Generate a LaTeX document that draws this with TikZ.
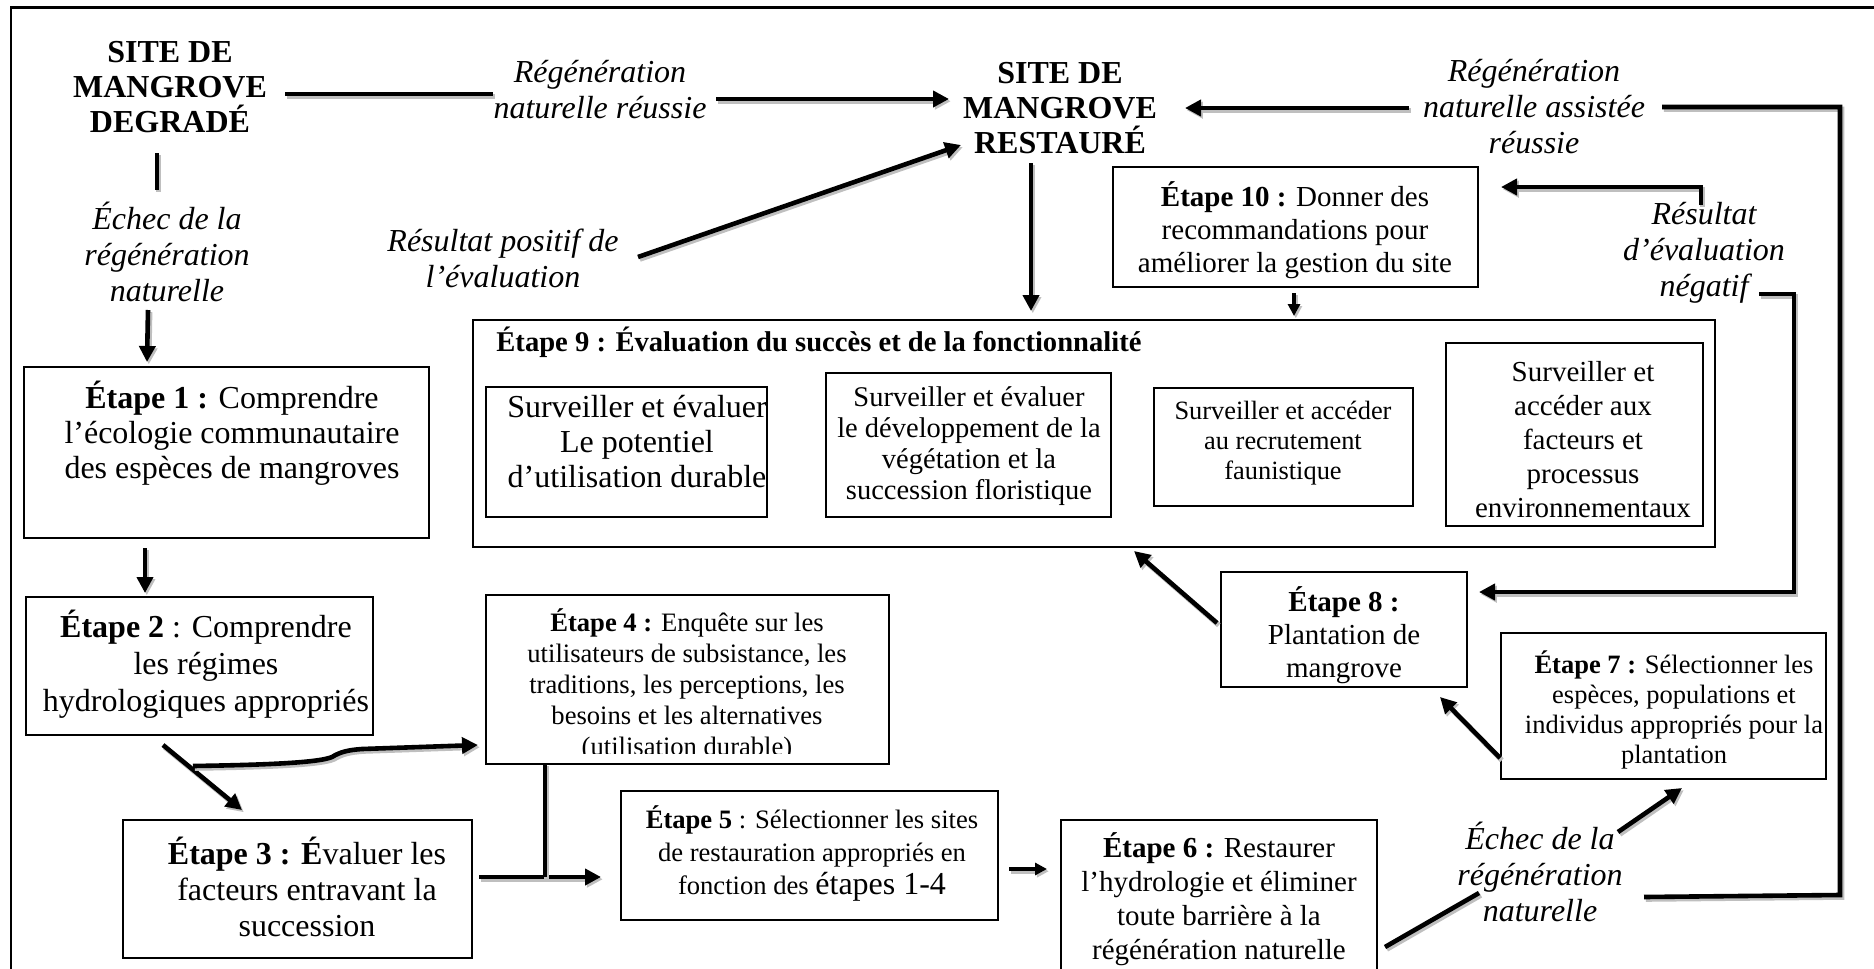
\documentclass[tikz,border=0pt]{standalone}
\usepackage{fontspec}
\setmainfont{Liberation Serif}
\usetikzlibrary{arrows.meta,fit}
\newcommand\myfs[2]{\fontsize{#1}{#2}\selectfont}
\begin{document}
\begin{tikzpicture}[x=0.5pt,y=-0.5pt,
  box/.style={draw=black, line width=0.7pt, inner sep=0pt},
  txt/.style={inner sep=0pt, align=center},
  lab/.style={inner sep=0pt, align=center, font=\myfs{16}{18}\itshape},
  conn/.style={line width=2.3pt, preaction={draw=black!25, line width=2.6pt, transform canvas={xshift=0.9pt,yshift=-1.1pt}}},
  arr/.style={conn, -{Triangle[length=8pt,width=8pt]}},
  sarr/.style={conn, -{Triangle[length=6pt,width=6pt]}}]
\useasboundingbox (0,0) rectangle (1874,969);
\clip (0,0) rectangle (1874,969);
% frame
\draw[line width=1.3pt] (11,975) -- (11,7.5) -- (1880,7.5);

% titles and labels
\node[txt, font=\myfs{16}{17.5}\bfseries] (deg) at (170,87) {SITE DE\\MANGROVE\\DEGRADÉ};
\node[txt, font=\myfs{16}{17.5}\bfseries] (res) at (1060,108) {SITE DE\\MANGROVE\\RESTAURÉ};
\node[lab] (lnr) at (600,90) {Régénération\\naturelle réussie};
\node[lab] (lech1) at (167,252) {Échec de la\\régénération\\naturelle};
\node[lab] (lpos) at (503,258) {Résultat positif de\\l’évaluation};
\node[lab] (lass) at (1534,107) {Régénération\\naturelle assistée\\réussie};
\node[lab] (lneg) at (1704,253) {Résultat\\d’évaluation\\négatif};
\node[lab] (lech2) at (1540,872) {Échec de la\\régénération\\naturelle};

% boxes
\node[box, fit={(24,367)(429,538)}] (s1) {};
\node[box, fit={(26,597)(373,735)}] (s2) {};
\node[box, fit={(123,820)(472,958)}] (s3) {};
\node[box, fit={(486,595)(889,764)}] (s4) {};
\node[box, fit={(621,791)(998,920)}] (s5) {};
\node[box, fit={(1061,820)(1377,990)}] (s6) {};
\node[box, fit={(1501,633)(1826,779)}] (s7) {};
\node[box, fit={(1221,572)(1467,687)}] (s8) {};
\node[box, fit={(473,320)(1715,547)}] (s9) {};
\node[box, fit={(486,387)(767,517)}] (m1) {};
\node[box, fit={(826,373)(1111,517)}] (m2) {};
\node[box, fit={(1154,388)(1413,506)}] (m3) {};
\node[box, fit={(1446,343)(1703,526)}] (m4) {};
\node[box, fit={(1113,167)(1478,287)}] (s10) {};

% box texts
\node[txt, font=\myfs{16}{17.5}] (s1t) at (232,433) {\textbf{Étape 1 :} Comprendre\\l’écologie communautaire\\des espèces de mangroves};
\node[txt, font=\myfs{16}{18.5}] (s2t) at (206,664) {\textbf{Étape 2} : Comprendre\\les régimes\\hydrologiques appropriés};
\node[txt, font=\myfs{16}{18}] (s3t) at (307,887) {\textbf{Étape 3 : É}valuer les\\facteurs entravant la\\succession};
\begin{scope}
\clip (486,595) rectangle (889,753);
\node[txt, font=\myfs{13.3}{15.5}] (s4t) at (687,685) {\textbf{Étape 4 :} Enquête sur les\\utilisateurs de subsistance, les\\traditions, les perceptions, les\\besoins et les alternatives\\(utilisation durable)};
\end{scope}
\node[txt, font=\myfs{13.3}{16.5}] (s5t) at (812,853) {\textbf{Étape 5} : Sélectionner les sites\\de restauration appropriés en\\fonction des {\myfs{16}{16.5}étapes 1-4}};
\node[txt, font=\myfs{14.5}{17}] (s6t) at (1219,899) {\textbf{Étape 6 :} Restaurer\\l’hydrologie et éliminer\\toute barrière à la\\régénération naturelle};
\node[txt, font=\myfs{13.25}{15}] (s7t) at (1674,710) {\textbf{Étape 7 :} Sélectionner les\\espèces, populations et\\individus appropriés pour la\\plantation};
\begin{scope}
\clip (1221,572) rectangle (1467,683);
\node[txt, font=\myfs{14.5}{16.5}] (s8t) at (1344,635) {\textbf{Étape 8 :}\\Plantation de\\mangrove};
\end{scope}
\node[txt, anchor=west, font=\myfs{14.3}{16}\bfseries] (s9t) at (496,342) {Étape 9 : Évaluation du succès et de la fonctionnalité};
\node[txt, font=\myfs{16}{17.5}] (m1t) at (637,442) {Surveiller et évaluer\\Le potentiel\\d’utilisation durable};
\node[txt, font=\myfs{14.25}{15.5}] (m2t) at (969,446) {Surveiller et évaluer\\le développement de la\\végétation et la\\succession floristique};
\node[txt, font=\myfs{13.2}{15}] (m3t) at (1283,443) {Surveiller et accéder\\au recrutement\\faunistique};
\node[txt, font=\myfs{14.5}{17}] (m4t) at (1583,440) {Surveiller et\\accéder aux\\facteurs et\\processus\\environnementaux};
\node[txt, font=\myfs{14.5}{16.5}] (s10t) at (1295,230) {\textbf{Étape 10 :} Donner des\\recommandations pour\\améliorer la gestion du site};

% connector end points
\coordinate (dA) at (285,94);   \coordinate (dB) at (493,94);
\coordinate (nA) at (716,99);   \coordinate (nB) at (949,99);
\coordinate (pA) at (638,257);  \coordinate (pB) at (961,145);
\coordinate (aA) at (1409,108); \coordinate (aB) at (1185,108);
\coordinate (vA) at (157,153);  \coordinate (vB) at (157,190);
\coordinate (eA) at (148,310);  \coordinate (eB) at (147,362);
\coordinate (oA) at (145,548);  \coordinate (oB) at (145,593);
\coordinate (tA) at (163,745);  \coordinate (tB) at (242,810);
\coordinate (bA) at (193,766);  \coordinate (bB) at (478,745);
\coordinate (fA) at (479,877);  \coordinate (fB) at (601,877);
\coordinate (gA) at (545,764);  \coordinate (gB) at (545,877);
\coordinate (hA) at (1009,869); \coordinate (hB) at (1047,869);
\coordinate (iA) at (1385,947); \coordinate (iB) at (1479,893);
\coordinate (jA) at (1618,832); \coordinate (jB) at (1682,788);
\coordinate (kA) at (1644,897); \coordinate (kB) at (1840,895);
\coordinate (kC) at (1840,107); \coordinate (kD) at (1662,107);
\coordinate (lA) at (1500,758); \coordinate (lB) at (1440,697);
\coordinate (qA) at (1217,623); \coordinate (qB) at (1134,551);
\coordinate (rA) at (1759,294); \coordinate (rB) at (1794,294);
\coordinate (rC) at (1794,592); \coordinate (rD) at (1479,592);
\coordinate (uA) at (1701,205); \coordinate (uB) at (1701,187);
\coordinate (uC) at (1501,187);
\coordinate (wA) at (1294,293); \coordinate (wB) at (1294,316);
\coordinate (xA) at (1031,163); \coordinate (xB) at (1031,311);

% connectors
\draw[conn] (dA) -- (dB);
\draw[arr] (nA) -- (nB);
\draw[arr] (pA) -- (pB);
\draw[arr] (aA) -- (aB);
\draw[conn] (vA) -- (vB);
\draw[arr] (eA) -- (eB);
\draw[arr] (oA) -- (oB);
\draw[arr] (tA) -- (tB);
\draw[arr] (bA) .. controls (260,765) and (318,763) .. (332,757)
            .. controls (340,752) and (348,750) .. (362,749) -- (bB);
\draw[arr] (fA) -- (fB);
\draw[conn] (gA) -- (gB);
\draw[sarr] (hA) -- (hB);
\draw[conn] (iA) -- (iB);
\draw[arr] (jA) -- (jB);
\draw[conn] (kA) -- (kB) -- (kC) -- (kD);
\draw[arr] (lA) -- (lB);
\draw[arr] (qA) -- (qB);
\draw[arr] (rA) -- (rB) -- (rC) -- (rD);
\draw[arr] (uA) -- (uB) -- (uC);
\draw[sarr] (wA) -- (wB);
\draw[arr] (xA) -- (xB);
\end{tikzpicture}
\end{document}
